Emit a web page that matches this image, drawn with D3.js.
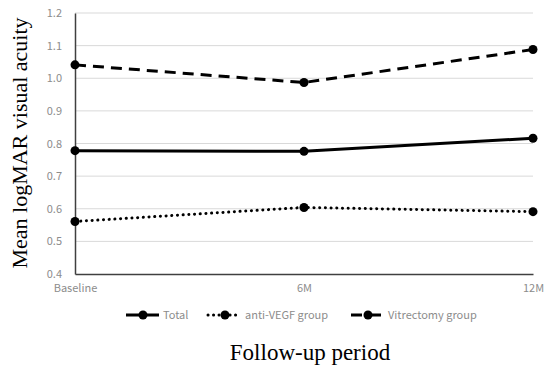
<!DOCTYPE html>
<html><head><meta charset="utf-8">
<script src="https://cdn.jsdelivr.net/npm/d3@7"></script>
<style>body{margin:0;background:#fff}svg{display:block}</style>
</head><body>
<svg id="c" width="550" height="371"></svg>
<script>
const categories = ["Baseline", "6M", "12M"];
const totalValues = [0.778, 0.776, 0.816];
const antiVegfValues = [0.561, 0.604, 0.591];
const vitrectomyValues = [1.041, 0.987, 1.088];
const yTicks = [0.4, 0.5, 0.6, 0.7, 0.8, 0.9, 1.0, 1.1, 1.2];
const seriesNames = ["Total", "anti-VEGF group", "Vitrectomy group"];

const series = [
  {name: seriesNames[0], values: totalValues, dash: null, cap: "butt"},
  {name: seriesNames[1], values: antiVegfValues, dash: "0.1 5.6", cap: "round"},
  {name: seriesNames[2], values: vitrectomyValues, dash: "11 7", cap: "butt"}
];

const svg = d3.select("#c");
const x = d3.scalePoint().domain(categories).range([75, 533]);
const y = d3.scaleLinear().domain([0.4, 1.2]).range([274, 13]);
const tickFont = "'Noto Sans CJK JP', 'Noto Sans', sans-serif";

// gridlines
svg.append("g").selectAll("line").data(yTicks.slice(1)).join("line")
  .attr("x1", 75).attr("x2", 533)
  .attr("y1", d => y(d)).attr("y2", d => y(d))
  .attr("stroke", "#d9d9d9").attr("stroke-width", 1);

// y axis
const ya = svg.append("g").attr("transform", "translate(75,0)")
  .call(d3.axisLeft(y).tickValues(yTicks).tickFormat(d3.format(".1f")).tickSize(0).tickPadding(13));
ya.select(".domain").attr("stroke", "#404040").attr("stroke-width", 1.5);
ya.selectAll("text").attr("fill", "#8c8c8c").style("font-size", "11px").style("font-family", tickFont);

// x axis
const xa = svg.append("g").attr("transform", "translate(0,274)")
  .call(d3.axisBottom(x).tickSize(0).tickPadding(10));
xa.select(".domain").attr("stroke", "#404040").attr("stroke-width", 1.5);
xa.selectAll("text").attr("fill", "#8c8c8c").style("font-size", "11px").style("font-family", tickFont);

const line = d3.line().x((d, i) => x(categories[i])).y(d => y(d));

series.forEach(s => {
  svg.append("path").datum(s.values)
    .attr("d", line).attr("fill", "none").attr("stroke", "#000")
    .attr("stroke-width", 3).attr("stroke-dasharray", s.dash)
    .attr("stroke-linecap", s.cap);
  svg.append("g").selectAll("circle").data(s.values).join("circle")
    .attr("cx", (d, i) => x(categories[i])).attr("cy", d => y(d))
    .attr("r", 4.5).attr("fill", "#000");
});

// legend
const legendX = [126, 208, 351];
const legendY = 315;
series.forEach((s, i) => {
  const g = svg.append("g");
  g.append("line").attr("x1", legendX[i]).attr("x2", legendX[i] + 33)
    .attr("y1", legendY).attr("y2", legendY)
    .attr("stroke", "#000").attr("stroke-width", 3)
    .attr("stroke-dasharray", s.dash ? (i === 1 ? "0.1 5.4" : "11 8") : null)
    .attr("stroke-linecap", s.cap);
  g.append("circle").attr("cx", legendX[i] + 17).attr("cy", legendY).attr("r", 4.5).attr("fill", "#000");
  g.append("text").attr("x", legendX[i] + 37).attr("y", legendY + 4)
    .text(s.name).attr("fill", "#8c8c8c").style("font-size", "11px").style("font-family", tickFont);
});

// axis titles
svg.append("text").attr("x", 310).attr("y", 360).attr("text-anchor", "middle")
  .text("Follow-up period").style("font-family", "'Liberation Serif', serif").style("font-size", "23px").attr("fill", "#000");
svg.append("text").attr("transform", "translate(27,143) rotate(-90)").attr("text-anchor", "middle")
  .text("Mean logMAR visual acuity").style("font-family", "'Liberation Serif', serif").style("font-size", "22px").attr("fill", "#000");
</script>
</body></html>
